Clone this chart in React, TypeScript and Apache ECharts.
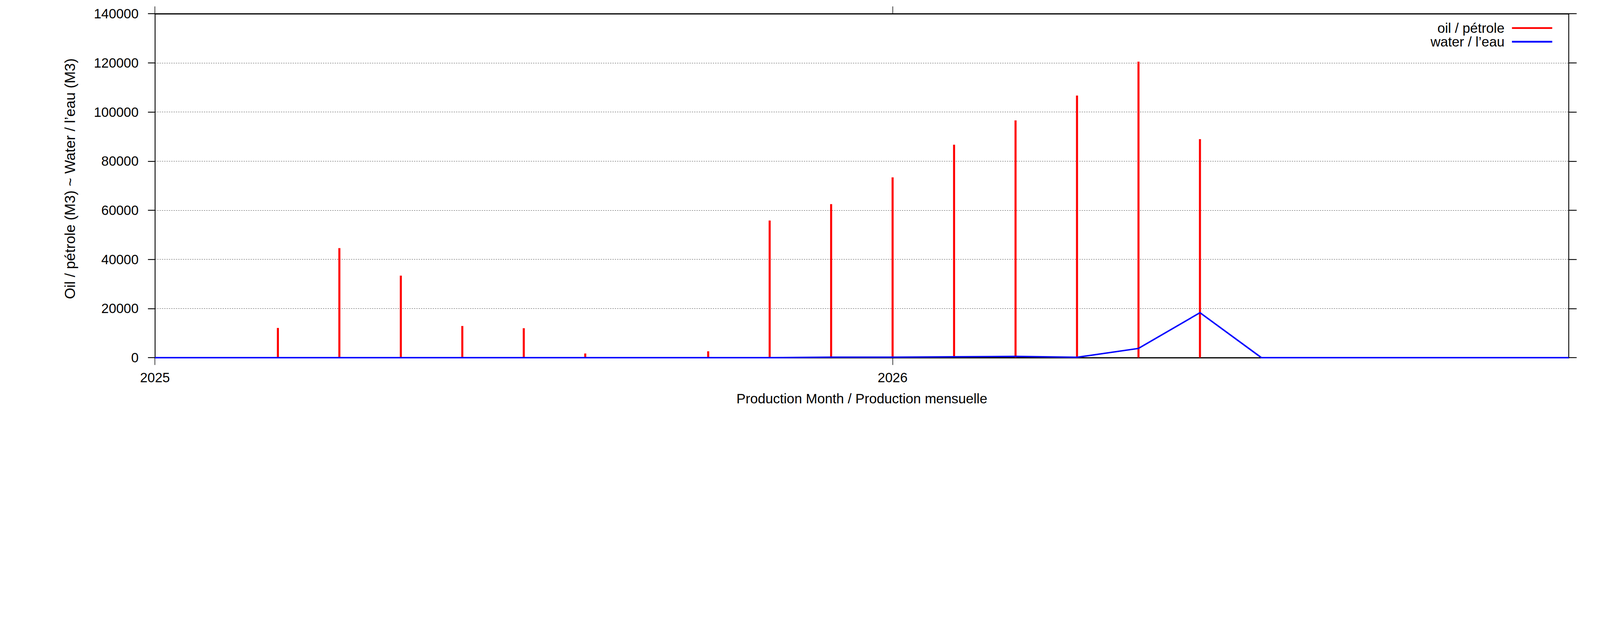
import React, { useEffect, useRef } from "react";
import * as echarts from "echarts";

const months = [
  "2025-01", "2025-02", "2025-03", "2025-04", "2025-05", "2025-06",
  "2025-07", "2025-08", "2025-09", "2025-10", "2025-11", "2025-12",
  "2026-01", "2026-02", "2026-03", "2026-04", "2026-05", "2026-06",
  "2026-07", "2026-08", "2026-09", "2026-10", "2026-11", "2026-12",
];
const oilValues = [
  0, 0, 12100, 44600, 33400, 12900,
  12000, 1700, 0, 2600, 55800, 62500,
  73400, 86700, 96600, 106700, 120500, 88950,
  0, 0, 0, 0, 0, 0,
];
const waterValues = [
  0, 0, 0, 0, 0, 0,
  0, 0, 0, 0, 0, 200,
  200, 350, 520, 150, 3760, 18300,
  0, 0, 0, 0, 0, 0,
];
const yearTicks = [2025, 2026];
const xMinMonth = "2025-01";
const xMaxMonth = "2026-12";
const yMax = 140000;
const yStep = 20000;
const oilName = "oil / pétrole";
const waterName = "water / l’eau";
const xTitle = "Production Month / Production mensuelle";
const yTitle = "Oil / pétrole (M3) ~ Water / l’eau (M3)";

// month string -> decimal year (gnuplot-style numeric axis)
const toX = (s: string) => {
  const [y, m] = s.split("-").map(Number);
  return y + (m - 1) / 12;
};

const FONT = "'Liberation Sans', Arial, Helvetica, sans-serif";
const REF_W = 5483;

export default function App() {
  const ref = useRef<HTMLDivElement>(null);
  useEffect(() => {
    if (!ref.current) return;
    const el = ref.current;
    const s = (el.clientWidth || window.innerWidth) / REF_W;
    const chart = echarts.init(el, undefined, { renderer: "svg" });
    const tickFs = 46 * s;
    const textFs = 47 * s;
    const xCommon = {
      type: "value",
      min: toX(xMinMonth),
      max: toX(xMaxMonth),
      splitLine: { show: false },
      minorTick: { show: false },
    };
    const option: any = {
      animation: false,
      backgroundColor: "#ffffff",
      textStyle: { fontFamily: FONT },
      grid: { left: 531 * s, width: 4845 * s, top: 47 * s, height: 1178 * s, containLabel: false },
      legend: {
        orient: "vertical",
        right: 157 * s,
        top: 66 * s,
        align: "right",
        itemWidth: 138 * s,
        itemHeight: 6 * s,
        itemGap: 0,
        selectedMode: false,
        textStyle: { fontSize: textFs, color: "#000", lineHeight: 46 * s, fontFamily: FONT, padding: [0, 19 * s, 0, 0] },
        data: [
          { name: oilName, icon: "rect" },
          { name: waterName, icon: "rect" },
        ],
      },
      xAxis: [
        {
          ...xCommon,
          position: "bottom",
          name: xTitle,
          nameLocation: "middle",
          nameGap: 116 * s,
          nameTextStyle: { fontSize: textFs, color: "#000", fontFamily: FONT },
          axisLine: { show: true, onZero: false, lineStyle: { color: "#000", width: 4 * s } },
          axisTick: { show: true, customValues: yearTicks, length: 25 * s, lineStyle: { color: "#000", width: 2 * s } },
          axisLabel: {
            show: true,
            customValues: yearTicks,
            formatter: (v: number) => String(Math.round(v)),
            fontSize: tickFs,
            color: "#000",
            margin: 46 * s,
            fontFamily: FONT,
          },
        },
        {
          ...xCommon,
          position: "top",
          axisLine: { show: true, onZero: false, lineStyle: { color: "#000", width: 4 * s } },
          axisTick: { show: true, customValues: yearTicks, length: 25 * s, lineStyle: { color: "#000", width: 2 * s } },
          axisLabel: { show: false },
        },
      ],
      yAxis: [
        {
          type: "value",
          min: 0,
          max: yMax,
          interval: yStep,
          position: "left",
          name: yTitle,
          nameLocation: "middle",
          nameGap: 266 * s,
          nameTextStyle: { fontSize: 50 * s, color: "#000", fontFamily: FONT, padding: [0, 0, 0, 48 * s] },
          axisLine: { show: true, onZero: false, lineStyle: { color: "#000", width: 3 * s } },
          axisTick: { show: true, length: 24 * s, lineStyle: { color: "#000", width: 3 * s } },
          axisLabel: {
            fontSize: tickFs,
            color: "#000",
            margin: 56 * s,
            fontFamily: FONT,
            formatter: (v: number) => String(v),
          },
          splitLine: { show: true, lineStyle: { type: [4 * s, 4 * s], color: "#444", width: 1.5 * s } },
        },
        {
          type: "value",
          min: 0,
          max: yMax,
          interval: yStep,
          position: "right",
          axisLine: { show: true, onZero: false, lineStyle: { color: "#000", width: 3 * s } },
          axisTick: { show: true, length: 27 * s, lineStyle: { color: "#000", width: 3 * s } },
          axisLabel: { show: false },
          splitLine: { show: false },
        },
      ],
      series: [
        {
          type: "bar",
          name: oilName,
          xAxisIndex: 0,
          yAxisIndex: 0,
          barWidth: 7 * s,
          itemStyle: { color: "#ff0000" },
          data: months.map((m, i) => [toX(m), oilValues[i]]),
        },
        {
          type: "line",
          name: waterName,
          xAxisIndex: 0,
          yAxisIndex: 0,
          symbol: "none",
          showSymbol: false,
          itemStyle: { color: "#0000ff" },
          lineStyle: { color: "#0000ff", width: 5 * s },
          data: months.map((m, i) => [toX(m), waterValues[i]]),
        },
      ],
    };
    chart.setOption(option);
    return () => chart.dispose();
  }, []);
  return (
    <div
      ref={ref}
      style={{ position: "fixed", left: 0, top: 0, width: "100vw", height: "100vh", background: "#fff" }}
    />
  );
}
